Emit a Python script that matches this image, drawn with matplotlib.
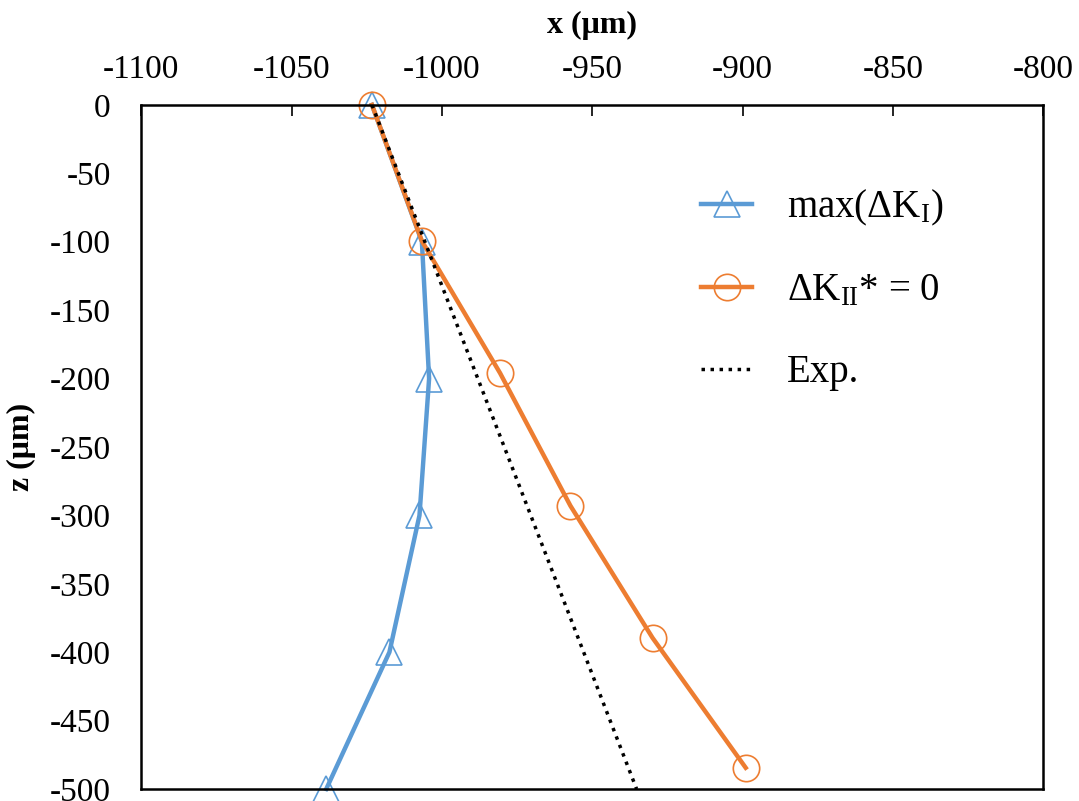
import matplotlib
matplotlib.use("Agg")
import matplotlib.pyplot as plt

# crack path data (um)
z_levels = [0, -100, -200, -300, -400, -500]
x_max_dki = [-1023.3, -1006.7, -1004.3, -1007.5, -1017.5, -1038.5]

z_dkii = [0, -99.5, -196, -293, -389.5, -484.5]
x_dkii = [-1023.3, -1006.7, -980.7, -957.3, -930.0, -899.0]

z_exp = [0, -500]
x_exp = [-1023.3, -935.3]

plt.rcParams["font.family"] = ["Liberation Serif", "DejaVu Serif"]
plt.rcParams["mathtext.fontset"] = "custom"
plt.rcParams["mathtext.rm"] = "Liberation Serif"
plt.rcParams["mathtext.it"] = "Liberation Serif:italic"
plt.rcParams["mathtext.bf"] = "Liberation Serif:bold"
plt.rcParams["axes.unicode_minus"] = False

fig = plt.figure(figsize=(10.79, 8.01), dpi=100)
ax = fig.add_axes([0.131, 0.015, 0.836, 0.854])

blue = "#5B9BD5"
orange = "#ED7D31"

ax.plot(x_max_dki, z_levels, color=blue, lw=3.2, marker="^", ms=19,
        mfc="none", mec=blue, mew=1.2, clip_on=False, label="max(ΔK$_\\mathrm{I}$)")
ax.plot(x_dkii, z_dkii, color=orange, lw=3.2, marker="o", ms=19,
        mfc="none", mec=orange, mew=1.2, clip_on=False, label="ΔK$_\\mathrm{II}$* = 0")
ax.plot(x_exp, z_exp, color="black", lw=2.5, ls=(0, (1, 1.6)), label="Exp.")

ax.set_xlim(-1100, -800)
ax.set_ylim(-500, 0)
ax.set_xticks(range(-1100, -799, 50))
ax.set_yticks(range(-500, 1, 50))

ax.xaxis.tick_top()
ax.xaxis.set_label_position("top")
ax.tick_params(axis="x", direction="in", length=8, width=1.2, labelsize=24, pad=14)
ax.tick_params(axis="y", length=0, labelsize=24, pad=22)
for s in ax.spines.values():
    s.set_linewidth(1.8)

ax.set_xlabel("x (μm)", fontsize=23, fontweight="bold", labelpad=16)
ax.set_ylabel("z (μm)", fontsize=23, fontweight="bold", labelpad=10)

ax.legend(loc="upper left", bbox_to_anchor=(0.582, 0.93), frameon=False,
          fontsize=28, handlelength=1.3, handletextpad=0.9, labelspacing=1.15)

fig.savefig("out.png", dpi=100)
